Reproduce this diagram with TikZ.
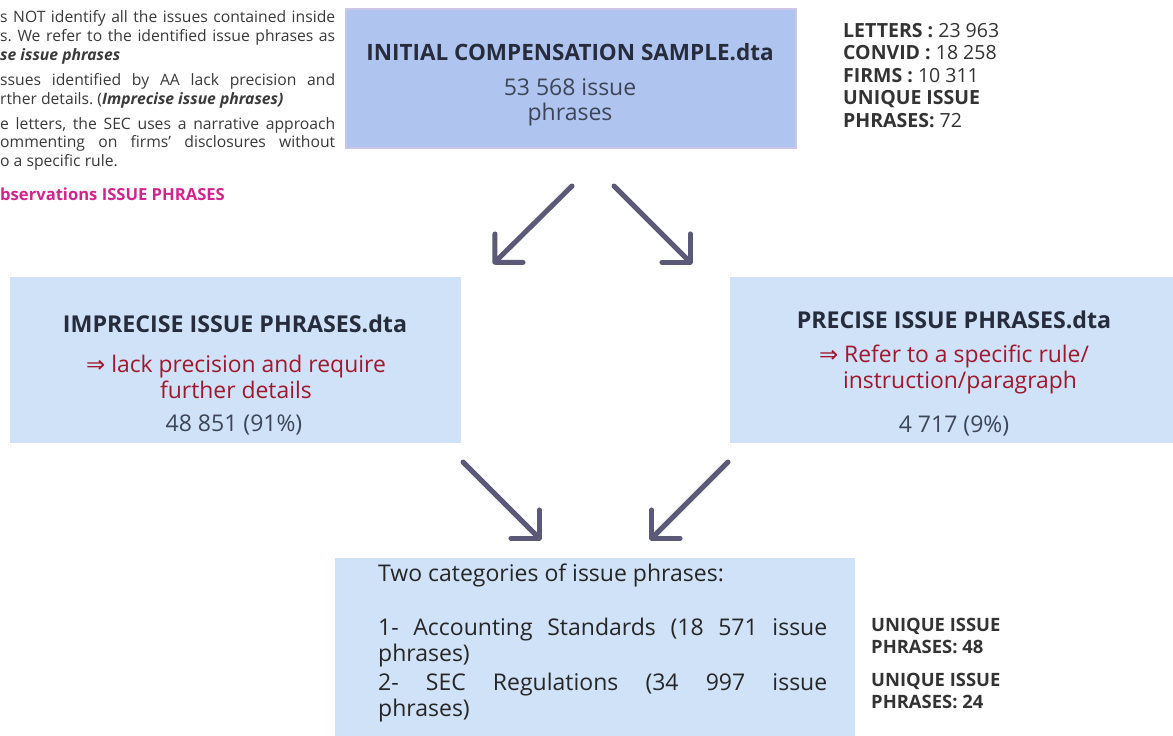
\documentclass[tikz,border=0pt]{standalone}
\usepackage{fontspec}
\setmainfont{Open Sans}
\newfontfamily\symfont{DejaVu Sans}
\usetikzlibrary{arrows.meta}
\definecolor{topfill}{HTML}{AFC5F0}
\definecolor{topline}{HTML}{C9C6EA}
\definecolor{boxfill}{HTML}{CFE2F8}
\definecolor{titlecol}{HTML}{262C3B}
\definecolor{numcol}{HTML}{3D4557}
\definecolor{redcol}{HTML}{A0182E}
\definecolor{arrowcol}{HTML}{5B5878}
\definecolor{statcol}{HTML}{333333}
\definecolor{pinkcol}{HTML}{D0248E}
\definecolor{leftcol}{HTML}{3A3A3A}
\frenchspacing
\begin{document}
\begin{tikzpicture}[x=1pt,y=-1pt,
  topbox/.style={fill=topfill, draw=topline, line width=1.5pt, anchor=north west, inner sep=0pt},
  subbox/.style={fill=boxfill, anchor=north west, inner sep=0pt},
  txt/.style={inner sep=0pt, anchor=base},
  ttl/.style={txt, font=\fontsize{22.5}{26}\selectfont\bfseries, text=titlecol},
  ttlm/.style={txt, font=\fontsize{23.2}{26}\selectfont\bfseries, text=titlecol},
  num/.style={txt, font=\fontsize{23}{26}\selectfont, text=numcol},
  redt/.style={txt, font=\fontsize{22.9}{26}\selectfont, text=redcol},
  stat/.style={inner sep=0pt, anchor=base west, font=\fontsize{19.5}{22}\selectfont, text=statcol},
  lefttxt/.style={inner sep=0pt, anchor=base west, font=\fontsize{15.7}{18}\selectfont, text=leftcol},
  bottxt/.style={inner sep=0pt, anchor=base west, font=\fontsize{23}{26}\selectfont, text=black!85},
  uniq/.style={inner sep=0pt, anchor=base west, font=\fontsize{18.4}{21}\selectfont\bfseries, text=statcol},
  arr/.style={draw=arrowcol, line width=5pt, line cap=round, -{Straight Barb[length=20pt,width=40pt,round]}}
]
\useasboundingbox[fill=white] (0,0) rectangle (1173,736);

% left cropped notes
\node[lefttxt] (l1) at (0,22) {\makebox[335pt][s]{s NOT identify all the issues contained inside}};
\node[lefttxt] (l2) at (0,41) {\makebox[335pt][s]{s. We refer to the identified issue phrases as}};
\node[lefttxt] (l3) at (0,60) {\textbf{\textit{se issue phrases}}};
\node[lefttxt] (l4) at (0,85) {\makebox[335pt][s]{ssues identified by AA lack precision and}};
\node[lefttxt] (l5) at (0,104) {rther details. (\textbf{\textit{Imprecise issue phrases)}}};
\node[lefttxt] (l6) at (0,129) {\makebox[335pt][s]{e letters, the SEC uses a narrative approach}};
\node[lefttxt] (l7) at (0,147) {\makebox[335pt][s]{ommenting on firms' disclosures without}};
\node[lefttxt] (l8) at (0,166) {o a specific rule.};
\node[lefttxt, text=pinkcol, font=\fontsize{16.6}{19}\selectfont\bfseries] (l9) at (0,200) {bservations ISSUE PHRASES};

% top box
\node[topbox, minimum width=450pt, minimum height=139pt] (init) at (345,8) {};
\node[ttl] (initT) at (570,60) {INITIAL COMPENSATION SAMPLE.dta};
\node[num] (initN1) at (570,95) {53 568 issue};
\node[num] (initN2) at (570,120) {phrases};

% stats
\node[stat] (s1) at (843,37) {\textbf{LETTERS :} 23 963};
\node[stat] (s2) at (843,59) {\textbf{CONVID :} 18 258};
\node[stat] (s3) at (843,82) {\textbf{FIRMS :} 10 311};
\node[stat] (s4) at (843,104) {\textbf{UNIQUE ISSUE}};
\node[stat] (s5) at (843,127) {\textbf{PHRASES:} 72};

% middle boxes
\node[subbox, minimum width=451pt, minimum height=166pt] (imp) at (10,277) {};
\node[ttlm] (impT) at (235,332) {IMPRECISE ISSUE PHRASES.dta};
\node[redt] (impR1) at (236,372) {{\symfont ⇒} lack precision and require};
\node[redt] (impR2) at (236,398) {further details};
\node[num] (impN) at (234,431) {48 851 (91\%)};

\node[subbox, minimum width=443pt, minimum height=166pt] (pre) at (730,277) {};
\node[ttlm] (preT) at (954,328) {PRECISE ISSUE PHRASES.dta};
\node[redt] (preR1) at (954,362) {{\symfont ⇒} Refer to a specific rule/};
\node[redt] (preR2) at (960,388) {instruction/paragraph};
\node[num] (preN) at (954,432) {4 717 (9\%)};

% bottom box
\node[subbox, minimum width=520pt, minimum height=178pt] (cat) at (335,558) {};
\node[bottxt] (c0) at (378,581) {Two categories of issue phrases:};
\node[bottxt] (c1) at (378,635) {\makebox[449pt][s]{1- Accounting Standards (18 571 issue}};
\node[bottxt] (c2) at (378,661) {phrases)};
\node[bottxt] (c3) at (378,690) {\makebox[449pt][s]{2- SEC Regulations (34 997 issue}};
\node[bottxt] (c4) at (378,716) {phrases)};

\node[uniq] (u1) at (871,631) {UNIQUE ISSUE};
\node[uniq] (u2) at (871,653) {PHRASES: 48};
\node[uniq] (u3) at (871,686) {UNIQUE ISSUE};
\node[uniq] (u4) at (871,708) {PHRASES: 24};

% arrows
\coordinate (a1s) at (572,186);
\coordinate (a1e) at (493,264);
\coordinate (a2s) at (614,186);
\coordinate (a2e) at (692,264);
\coordinate (a3s) at (463,462);
\coordinate (a3e) at (541,540);
\coordinate (a4s) at (728,462);
\coordinate (a4e) at (650,540);
\draw[arr] (a1s) -- (a1e);
\draw[arr] (a2s) -- (a2e);
\draw[arr] (a3s) -- (a3e);
\draw[arr] (a4s) -- (a4e);
\end{tikzpicture}
\end{document}
